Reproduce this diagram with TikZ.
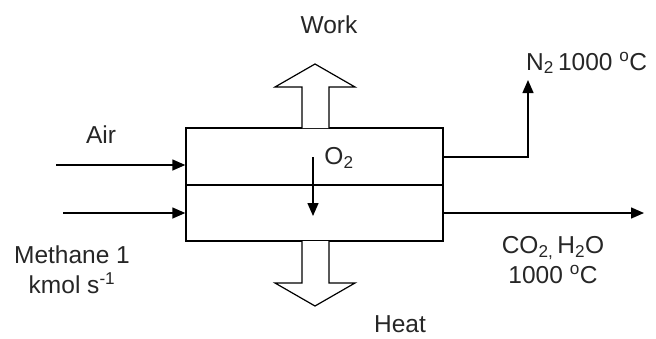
\documentclass[tikz,border=0pt]{standalone}
\usepackage{fontspec}
\setmainfont{Liberation Sans}
\usetikzlibrary{arrows.meta}
\begin{document}
\begin{tikzpicture}[x=1pt,y=-1pt,
  lbl/.style={font=\fontsize{24.5}{28}\selectfont, text=black!85, inner sep=0pt, align=center},
  unit/.style={draw, line width=1.4pt, minimum width=257pt, inner sep=0pt},
  flow/.style={line width=1.4pt, -{Triangle[length=13pt,width=11pt]}},
  fat/.style={line width=1.2pt, fill=white, line join=miter}]
\useasboundingbox (0,0) rectangle (656,338);
\node[unit, minimum height=57pt] (top) at (314.5,156.5) {};
\node[unit, minimum height=56pt] (bot) at (314.5,213) {};
% work arrow
\draw[fat] (302,128) -- (302,87) -- (275,87) -- (315,64) -- (355,87) -- (329,87) -- (329,128);
% heat arrow
\draw[fat] (302,241) -- (302,283) -- (275,283) -- (315,306) -- (355,283) -- (329,283) -- (329,241);
\node[lbl] (work) at (329,25) {Work};
\node[lbl] (heat) at (400,324) {Heat};
% inlets
\coordinate (airin) at (56,165);
\coordinate (methin) at (63,213);
\draw[flow] (airin) -- (airin -| top.west);
\draw[flow] (methin) -- (methin -| bot.west);
\node[lbl] (air) at (101,135) {Air};
\node[lbl] (meth) at (72,270) {Methane 1\\[2pt]kmol s\textsuperscript{-1}};
% outlets
\coordinate (n2out) at (528,80);
\draw[flow] (top.east |- 0,157) -| (n2out);
\node[lbl, anchor=west] (n2) at (526,63) {N\textsubscript{2}\,1000 \textsuperscript{o}C};
\coordinate (prodout) at (644,213);
\draw[flow] (bot.east) -- (prodout);
\node[lbl] (prod) at (553,260) {CO\textsubscript{2,}\,H\textsubscript{2}O\\[2pt]1000 \textsuperscript{o}C};
% O2 transfer
\coordinate (o2a) at (313,157);
\coordinate (o2b) at (313,216);
\draw[flow] (o2a) -- (o2b);
\node[lbl] (o2) at (339,158) {O\textsubscript{2}};
\end{tikzpicture}
\end{document}
